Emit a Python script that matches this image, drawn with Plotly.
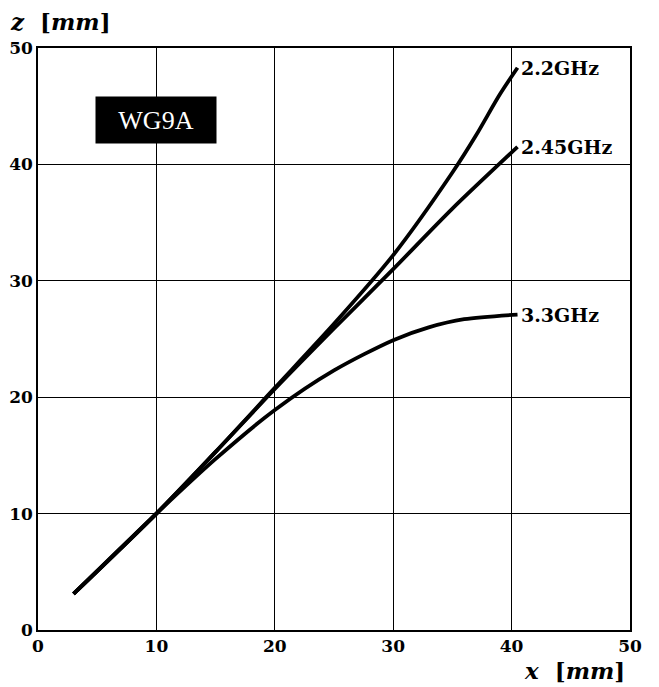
import plotly.graph_objects as go

# Data
x_22 = [3, 10, 15, 20, 25, 30, 35, 37, 39, 40.5]
z_22 = [3.1, 10, 15.3, 20.8, 26.3, 32.2, 39.3, 42.5, 46.0, 48.3]

x_245 = [3, 10, 15, 20, 25, 30, 35, 40.5]
z_245 = [3.1, 10, 15.3, 20.7, 25.9, 31.0, 36.2, 41.5]

x_33 = [3, 10, 15, 20, 25, 30, 33, 36, 40.5]
z_33 = [3.1, 10, 14.7, 18.9, 22.3, 24.9, 26.0, 26.7, 27.1]

series_names = ["2.2GHz", "2.45GHz", "3.3GHz"]
tick_vals = [0, 10, 20, 30, 40, 50]
tick_text = [str(v) for v in tick_vals]

serif = "DejaVu Serif, serif"
times = "Liberation Serif, Times New Roman, serif"

fig = go.Figure()
for xs, zs, nm in [(x_22, z_22, series_names[0]),
                   (x_245, z_245, series_names[1]),
                   (x_33, z_33, series_names[2])]:
    fig.add_trace(go.Scatter(x=xs, y=zs, mode="lines", name=nm,
                             line=dict(color="black", width=3.8, shape="spline", smoothing=0.8),
                             showlegend=False))
    fig.add_annotation(x=40.6, y=zs[-1], xref="x", yref="y", text="<b>" + nm + "</b>",
                       showarrow=False, xanchor="left", yanchor="middle",
                       font=dict(family=serif, size=19, color="black"))

fig.add_annotation(x=10, y=43.85, xref="x", yref="y", text="WG9A", showarrow=False,
                   bgcolor="black", font=dict(family=times, size=26, color="white"),
                   borderpad=8, width=104, height=30)

fig.add_annotation(x=0, y=1, xref="paper", yref="paper", text="<b><i>z</i>  [<i>mm</i>]</b>",
                   showarrow=False, xanchor="left", yanchor="bottom", xshift=-30, yshift=11,
                   font=dict(family=serif, size=23, color="black"))
fig.add_annotation(x=1, y=0, xref="paper", yref="paper", text="<b><i>x</i>  [<i>mm</i>]</b>",
                   showarrow=False, xanchor="right", yanchor="top", xshift=-3, yshift=-25,
                   font=dict(family=serif, size=23, color="black"))

axis_common = dict(range=[0, 50], tickvals=tick_vals, ticktext=tick_text, showgrid=True,
                   gridcolor="black", gridwidth=1.3, zeroline=False, showline=True,
                   linecolor="black", linewidth=1.6, mirror=True, ticks="", automargin=False,
                   tickfont=dict(family=serif, size=17, color="black", weight="bold"))

fig.update_xaxes(**axis_common)
fig.update_yaxes(**axis_common, ticklabelstandoff=0)

# The page adds an 8px body margin, so the figure is sized to fit the window from there
fig.update_layout(width=651, height=679, plot_bgcolor="white", paper_bgcolor="white",
                  margin=dict(l=30, r=29, t=40, b=57))

fig.write_html("out.html")
